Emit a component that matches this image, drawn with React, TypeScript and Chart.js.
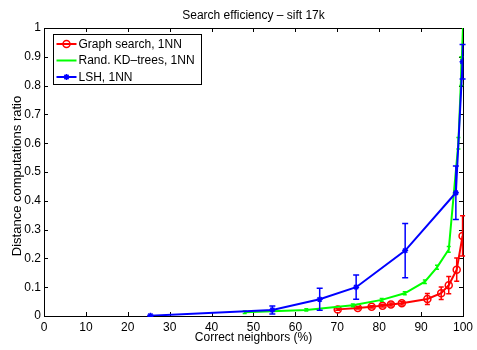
import React, { useEffect, useRef } from 'react';
import { Chart, registerables } from 'chart.js';

Chart.register(...registerables);

const titleText = 'Search efficiency \u2013 sift 17k';
const xTitle = 'Correct neighbors (%)';
const yTitle = 'Distance computations ratio';

const seriesLabels = ['Graph search, 1NN', 'Rand. KD\u2013trees, 1NN', 'LSH, 1NN'];
const seriesColors = ['#ff0000', '#00ff00', '#0000ff'];

const graphX = [70.1, 74.9, 78.2, 80.8, 82.8, 85.4, 91.5, 94.8, 96.6, 98.5, 99.9];
const graphY = [0.023, 0.028, 0.032, 0.036, 0.04, 0.044, 0.059, 0.079, 0.107, 0.161, 0.278];
const graphErr = [0.003, 0.004, 0.004, 0.005, 0.005, 0.006, 0.019, 0.022, 0.03, 0.04, 0.07];

const kdX = [47.9, 62.6, 73.7, 80.6, 86.1, 90.9, 93.8, 96.6, 98.9, 99.6, 100];
const kdY = [0.013, 0.021, 0.037, 0.056, 0.079, 0.119, 0.169, 0.231, 0.6, 0.85, 1.0];
const kdErr = [0.004, 0.004, 0.005, 0.005, 0.005, 0.006, 0.007, 0.01, 0.02, 0.05, 0.0];

const lshX = [25.4, 54.5, 65.8, 74.5, 86.2, 98.3, 99.9];
const lshY = [0.001, 0.021, 0.058, 0.1, 0.227, 0.428, 0.883];
const lshErr = [0.002, 0.014, 0.038, 0.042, 0.094, 0.093, 0.06];

const FONT = 'Helvetica, "Liberation Sans", Arial, sans-serif';

const toPts = (xs: number[], ys: number[]) => xs.map((x, i) => ({ x, y: ys[i] }));

const errorBarPlugin = {
  id: 'errorBars',
  afterDatasetDraw(chart: any, args: any) {
    const ds = chart.data.datasets[args.index];
    const errs: number[] | undefined = ds.errors;
    if (!errs) return;
    const { ctx, scales } = chart;
    const xs = scales.x;
    const ys = scales.y;
    ctx.save();
    ctx.strokeStyle = ds.borderColor;
    ctx.lineWidth = 1.5;
    ctx.beginPath();
    ds.data.forEach((p: any, i: number) => {
      const e = errs[i];
      if (!e) return;
      const px = xs.getPixelForValue(p.x);
      const y1 = ys.getPixelForValue(p.y - e);
      const y2 = ys.getPixelForValue(p.y + e);
      const cw = ds.capHalf ?? 3;
      ctx.moveTo(px, y1);
      ctx.lineTo(px, y2);
      ctx.moveTo(px - cw, y1);
      ctx.lineTo(px + cw, y1);
      ctx.moveTo(px - cw, y2);
      ctx.lineTo(px + cw, y2);
    });
    ctx.stroke();
    ctx.restore();
  },
};

const framePlugin = {
  id: 'frame',
  beforeDatasetsDraw(chart: any) {
    const { ctx, chartArea: a, scales } = chart;
    const tl = 4;
    ctx.save();
    ctx.strokeStyle = '#000';
    ctx.lineWidth = 1;
    ctx.beginPath();
    scales.x.ticks.forEach((t: any) => {
      const px = Math.round(scales.x.getPixelForValue(t.value)) + 0.5;
      ctx.moveTo(px, a.bottom);
      ctx.lineTo(px, a.bottom - tl);
      ctx.moveTo(px, a.top);
      ctx.lineTo(px, a.top + tl);
    });
    scales.y.ticks.forEach((t: any) => {
      const py = Math.round(scales.y.getPixelForValue(t.value)) + 0.5;
      ctx.moveTo(a.left, py);
      ctx.lineTo(a.left + tl, py);
      ctx.moveTo(a.right, py);
      ctx.lineTo(a.right - tl, py);
    });
    ctx.stroke();
    ctx.strokeRect(Math.round(a.left) + 0.5, Math.round(a.top) + 0.5, Math.round(a.right - a.left), Math.round(a.bottom - a.top));
    // titles
    ctx.fillStyle = '#000';
    ctx.font = '12px ' + FONT;
    ctx.textAlign = 'center';
    ctx.textBaseline = 'alphabetic';
    ctx.fillText(titleText, (a.left + a.right) / 2, 19);
    ctx.save();
    ctx.translate(21, 176);
    ctx.rotate(-Math.PI / 2);
    ctx.font = '13px ' + FONT;
    ctx.fillText(yTitle, 0, 0);
    ctx.restore();
    ctx.restore();
  },
};

const legendPlugin = {
  id: 'customLegend',
  afterDraw(chart: any) {
    const { ctx, chartArea: a } = chart;
    const bx = Math.round(a.left) + 9.5;
    const by = Math.round(a.top) + 6.5;
    const bw = 148;
    const bh = 50;
    ctx.save();
    ctx.fillStyle = '#fff';
    ctx.fillRect(bx, by, bw, bh);
    ctx.strokeStyle = '#000';
    ctx.lineWidth = 1;
    ctx.strokeRect(bx, by, bw, bh);
    ctx.font = '12px ' + FONT;
    ctx.textBaseline = 'middle';
    ctx.textAlign = 'left';
    chart.data.datasets.forEach((ds: any, i: number) => {
      const ry = by + 9.5 + i * 16.5;
      const lx1 = bx + 3;
      const lx2 = bx + 23;
      const mx = (lx1 + lx2) / 2;
      ctx.strokeStyle = ds.borderColor;
      ctx.lineWidth = 2;
      ctx.beginPath();
      ctx.moveTo(lx1, ry);
      ctx.lineTo(lx2, ry);
      ctx.stroke();
      ctx.lineWidth = 1.5;
      if (ds.pointStyle === 'circle' && ds.pointRadius > 0) {
        ctx.beginPath();
        ctx.arc(mx, ry, 3.5, 0, Math.PI * 2);
        ctx.stroke();
      } else if (ds.pointStyle === 'star' && ds.pointRadius > 0) {
        const r = 3;
        const d = r * Math.SQRT1_2;
        ctx.beginPath();
        ctx.moveTo(mx - r, ry); ctx.lineTo(mx + r, ry);
        ctx.moveTo(mx, ry - r); ctx.lineTo(mx, ry + r);
        ctx.moveTo(mx - d, ry - d); ctx.lineTo(mx + d, ry + d);
        ctx.moveTo(mx - d, ry + d); ctx.lineTo(mx + d, ry - d);
        ctx.stroke();
      }
      ctx.fillStyle = '#000';
      ctx.fillText(ds.label, bx + 25, ry + 0.5);
    });
    ctx.restore();
  },
};

export default function App() {
  const ref = useRef<HTMLCanvasElement | null>(null);
  useEffect(() => {
    document.body.style.margin = '0';
    const canvas = ref.current;
    if (!canvas) return;
    const font = { family: FONT, size: 12, weight: 'normal' as const };
    const chart = new Chart(canvas, {
      type: 'line',
      data: {
        datasets: [
          {
            label: seriesLabels[0],
            data: toPts(graphX, graphY),
            errors: graphErr,
            borderColor: seriesColors[0],
            backgroundColor: 'rgba(0,0,0,0)',
            borderWidth: 2,
            pointStyle: 'circle',
            pointRadius: 3.5,
            pointBorderWidth: 1.5,
            pointBorderColor: seriesColors[0],
            pointBackgroundColor: 'rgba(0,0,0,0)',
            tension: 0,
            order: 2,
            capHalf: 2.5,
          } as any,
          {
            label: seriesLabels[1],
            data: toPts(kdX, kdY),
            errors: kdErr,
            borderColor: seriesColors[1],
            backgroundColor: 'rgba(0,0,0,0)',
            borderWidth: 2,
            pointStyle: 'line',
            pointRadius: 0,
            tension: 0,
            order: 1,
            capHalf: 2,
          } as any,
          {
            label: seriesLabels[2],
            data: toPts(lshX, lshY),
            errors: lshErr,
            borderColor: seriesColors[2],
            backgroundColor: 'rgba(0,0,0,0)',
            borderWidth: 2,
            pointStyle: 'star',
            pointRadius: 3,
            pointBorderWidth: 1.5,
            pointBorderColor: seriesColors[2],
            tension: 0,
            order: 0,
            capHalf: 3,
          } as any,
        ],
      },
      options: {
        animation: false,
        responsive: false,
        maintainAspectRatio: false,
        events: [],
        layout: { padding: { left: 0, right: 10, top: 28, bottom: 0 } },
        plugins: {
          legend: { display: false },
          tooltip: { enabled: false },
          title: { display: false },
        },
        scales: {
          x: {
            type: 'linear',
            min: 0,
            max: 100,
            ticks: { stepSize: 10, color: '#000', font, padding: 4, maxRotation: 0, autoSkip: false },
            grid: { display: false, drawTicks: false },
            border: { display: false },
            title: { display: true, text: xTitle, color: '#000', font, padding: { top: 0, bottom: 5 } },
            afterFit: (s: any) => { s.height = 34; },
          },
          y: {
            type: 'linear',
            min: 0,
            max: 1,
            ticks: {
              stepSize: 0.1,
              color: '#000',
              font,
              padding: 3,
              autoSkip: false,
              callback: (v: any) => String(Number(Number(v).toFixed(1))),
            },
            grid: { display: false, drawTicks: false },
            border: { display: false },
            title: { display: false },
            afterFit: (s: any) => { s.width = 44; },
          },
        },
      },
      plugins: [framePlugin, errorBarPlugin, legendPlugin],
    } as any);
    return () => chart.destroy();
  }, []);
  return <canvas ref={ref} width={477} height={350} style={{ display: 'block', width: 477, height: 350 }} />;
}
